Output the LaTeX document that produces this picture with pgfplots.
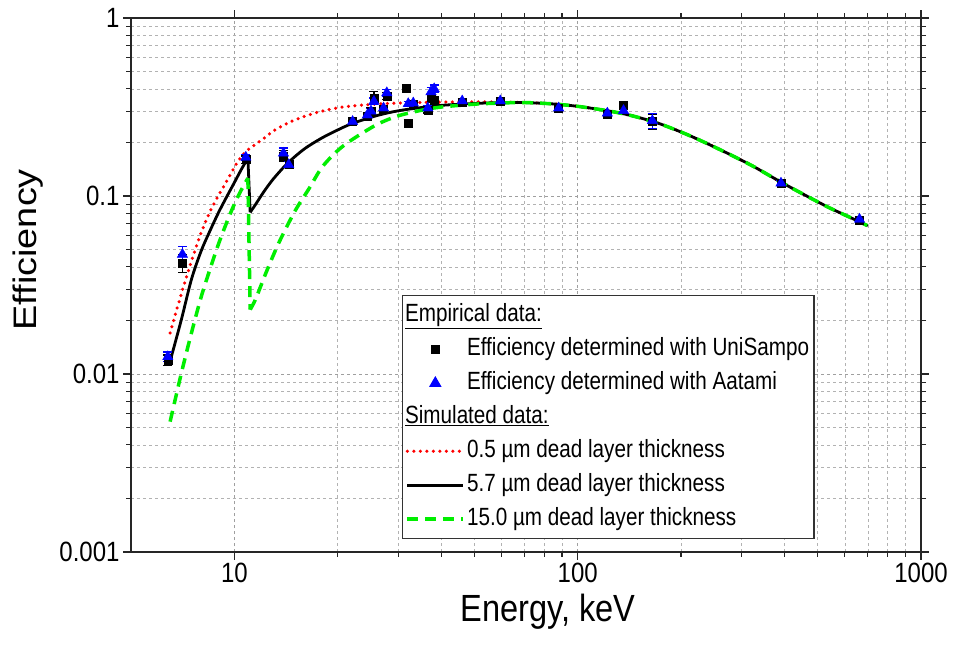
\documentclass[border=0pt]{standalone}
\usepackage{graphicx}
\usepackage{pgfplots}
\pgfplotsset{compat=1.18}
\usepackage{fontspec}
\setmainfont{Liberation Sans}
\definecolor{lgreen}{RGB}{0,238,0}
\newcommand{\hs}[1]{\scalebox{0.86}[1]{#1}}
\newcommand{\hl}[1]{\scalebox{0.83}[1]{#1}}
\pgfplotstableread{
E v e
6.4 0.0120 0.0008
7.06 0.042 0.005
10.8 0.160 0.008
13.9 0.168 0.012
14.4 0.150 0.006
22.1 0.262 0.010
24.4 0.282 0.010
25.0 0.300 0.012
25.5 0.355 0.030
27.2 0.308 0.010
27.8 0.365 0.015
31.7 0.405 0.015
32.1 0.257 0.012
33.2 0.328 0.012
36.6 0.305 0.012
37.4 0.355 0.015
38.2 0.345 0.015
46.1 0.335 0.010
59.5 0.340 0.010
88.0 0.310 0.010
122 0.288 0.010
136 0.325 0.012
165 0.262 0.025
391 0.118 0.004
662 0.0735 0.003
}\unisampo
\pgfplotstableread{
E v e
6.4 0.0125 0.0008
7.06 0.047 0.005
10.8 0.165 0.006
13.9 0.174 0.012
14.4 0.150 0.006
22.1 0.262 0.010
24.4 0.285 0.010
25.0 0.300 0.010
25.5 0.340 0.015
27.2 0.312 0.010
27.8 0.380 0.015
32.1 0.330 0.010
33.2 0.333 0.010
36.6 0.312 0.010
37.4 0.385 0.020
38.2 0.400 0.020
46.1 0.342 0.010
59.5 0.342 0.008
88.0 0.312 0.008
122 0.292 0.008
136 0.302 0.008
165 0.265 0.025
391 0.118 0.004
662 0.0740 0.003
}\aatami
\begin{document}
\begin{tikzpicture}
\path[use as bounding box] (0,0) rectangle (961bp,645bp);
\begin{axis}[
  at={(131bp,93bp)}, anchor=south west,
  scale only axis, width=790bp, height=534bp,
  xmode=log, ymode=log, xmin=5, xmax=1000, ymin=0.001, ymax=1,
  xtick={10,100,1000}, xticklabels={\hs{10},\hs{100},\hs{1000}},
  ytick={0.001,0.01,0.1,1}, yticklabels={\hs{0.001},\hs{0.01},\hs{0.1},\hs{1}},
  grid=both,
  major grid style={dash pattern=on 3bp off 3bp, gray!75, line width=0.7bp},
  minor grid style={dash pattern=on 3bp off 3bp, gray!60, line width=0.6bp},
  tick align=outside, major tick length=8bp, minor tick length=5bp,
  axis line style={line width=1.3bp, black!85},
  every tick/.style={line width=1.1bp, black!85},
  ticklabel style={font=\fontsize{28}{30}\selectfont},
  xlabel={\hs{Energy, keV}}, ylabel={\scalebox{1}[0.86]{Efficiency}},
  label style={font=\fontsize{38}{42}\selectfont},
  xlabel style={at={(axis description cs:0.528,-0.112)}, anchor=center},
  ylabel style={at={(axis description cs:-0.13,0.566)}, anchor=center},
  legend image code/.code={\draw[mark repeat=2,mark phase=2,#1] plot coordinates {(0bp,0bp) (28bp,0bp) (56bp,0bp)};},
  legend cell align=left,
  legend style={at={(0.343,0.481)}, anchor=north west, draw=black!80, line width=1.2bp,
    font=\fontsize{25}{30}\selectfont, row sep=1bp, inner sep=3bp,
    nodes={text height=21bp, text depth=8bp}},
]
% simulated curves
\addplot[forget plot, red, line width=3.5bp, line cap=round, dash pattern=on 0bp off 6.5bp, smooth, tension=0.5] coordinates {
(6.5,0.0170) (7.0,0.028) (7.5,0.043) (8.0,0.062) (8.5,0.082) (9.0,0.101) (9.5,0.121) (10.0,0.145) (10.5,0.167) (11.0,0.183) (12.0,0.206) (13.0,0.232) (14.5,0.260) (16,0.280) (18,0.300) (20.5,0.315) (23.5,0.324) (27,0.330) (32,0.334) (40,0.337) (50,0.338) (60,0.337) (70,0.335) (85,0.329) (100,0.319) (120,0.303) (140,0.286) (170,0.258) (210,0.220) (260,0.182) (320,0.149) (390,0.120) (460,0.101) (540,0.086) (620,0.076) (700,0.068)};
\addplot[forget plot, black, line width=2.8bp, smooth, tension=0.5] coordinates {
(6.5,0.0118) (7.0,0.020) (7.5,0.034) (8.0,0.049) (8.5,0.064) (9.0,0.081) (9.5,0.099) (10.0,0.119) (10.5,0.142) (10.95,0.163)};
\addplot[forget plot, black, line width=2.8bp] coordinates {(10.95,0.163) (11.12,0.081)};
\addplot[forget plot, black, line width=2.8bp, smooth, tension=0.5] coordinates {
(11.12,0.081) (11.5,0.089) (12.2,0.106) (13.0,0.125) (14.3,0.153) (16.0,0.184) (18.0,0.212) (20.0,0.235) (22.0,0.255) (26.0,0.283) (30.0,0.301) (35,0.314) (40,0.323) (50,0.331) (60,0.335) (70,0.335) (85,0.329) (100,0.319) (120,0.303) (140,0.286) (170,0.258) (210,0.220) (260,0.182) (320,0.149) (390,0.120) (460,0.101) (540,0.086) (620,0.076) (700,0.068)};
\addplot[forget plot, lgreen, line width=3.5bp, dash pattern=on 11bp off 7bp, smooth, tension=0.5] coordinates {
(6.5,0.0054) (7.0,0.0100) (7.5,0.017) (8.0,0.027) (8.5,0.039) (9.0,0.054) (9.5,0.071) (10.0,0.090) (10.5,0.109) (10.95,0.126)};
\addplot[forget plot, lgreen, line width=3.5bp, dash pattern=on 11bp off 7bp] coordinates {(10.95,0.126) (11.12,0.023)};
\addplot[forget plot, lgreen, line width=3.5bp, dash pattern=on 11bp off 7bp, smooth, tension=0.5] coordinates {
(11.12,0.023) (11.5,0.026) (12.0,0.032) (12.5,0.039) (13.5,0.055) (15.0,0.082) (16.5,0.110) (18.0,0.145) (20.0,0.180) (22.0,0.207) (26.0,0.252) (30.0,0.282) (35.0,0.303) (40.0,0.316) (50.0,0.328) (60.0,0.333) (70,0.335) (85,0.329) (100,0.319) (120,0.303) (140,0.286) (170,0.258) (210,0.220) (260,0.182) (320,0.149) (390,0.120) (460,0.101) (540,0.086) (620,0.076) (700,0.068)};
% empirical data
\addplot[forget plot, only marks, mark=square*, mark size=4bp, black,
  error bars/.cd, y dir=both, y explicit,
  error bar style={line width=1.2bp, black},
  error mark options={rotate=90, mark size=4.5bp, line width=1.2bp, black}]
  table[x=E, y=v, y error=e] {\unisampo};
\addplot[forget plot, only marks, mark=triangle*, mark size=6bp, blue,
  error bars/.cd, y dir=both, y explicit,
  error bar style={line width=1.2bp, blue},
  error mark options={rotate=90, mark size=4.5bp, line width=1.2bp, blue}]
  table[x=E, y=v, y error=e] {\aatami};
% legend
\addlegendimage{empty legend}
\addlegendentry{\hspace*{-62bp}\hl{\underline{Empirical data:}}}
\addlegendimage{only marks, mark=square*, mark size=4bp, black}
\addlegendentry{\hl{Efficiency determined with UniSampo}}
\addlegendimage{only marks, mark=triangle*, mark size=6bp, blue}
\addlegendentry{\hl{Efficiency determined with Aatami}}
\addlegendimage{empty legend}
\addlegendentry{\hspace*{-62bp}\hl{\underline{Simulated data:}}}
\addlegendimage{red, line width=3.5bp, line cap=round, dash pattern=on 0bp off 6.5bp}
\addlegendentry{\hl{0.5 µm dead layer thickness}}
\addlegendimage{black, line width=2.8bp}
\addlegendentry{\hl{5.7 µm dead layer thickness}}
\addlegendimage{lgreen, line width=3.5bp, dash pattern=on 11bp off 7bp}
\addlegendentry{\hl{15.0 µm dead layer thickness}}
\end{axis}
\end{tikzpicture}
\end{document}
